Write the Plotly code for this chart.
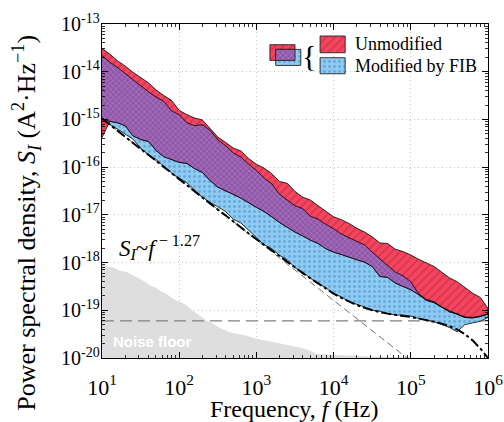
import numpy as np
import plotly.graph_objects as go

# ---------------- data (log10 values) ----------------
log_f = [1.0, 1.1, 1.2, 1.3, 1.4, 1.5, 1.6, 1.7, 1.8, 1.9,
         2.0, 2.1, 2.2, 2.3, 2.4, 2.5, 2.6, 2.7, 2.8, 2.9,
         3.0, 3.1, 3.2, 3.3, 3.4, 3.5, 3.6, 3.7, 3.8, 3.9,
         4.0, 4.1, 4.2, 4.3, 4.4, 4.5, 4.6, 4.7, 4.8, 4.9,
         5.0, 5.1, 5.2, 5.3, 5.4, 5.5, 5.6, 5.7, 5.8, 5.9, 6.0]

# Unmodified (red) band
red_top_log = [-13.51, -13.63, -13.77, -13.88, -14.01, -14.12, -14.23, -14.38, -14.50, -14.60,
               -14.81, -14.90, -14.97, -15.01, -15.20, -15.37, -15.48, -15.60, -15.66, -15.82,
               -15.94, -16.02, -16.14, -16.30, -16.34, -16.51, -16.63, -16.69, -16.81, -16.92,
               -17.04, -17.10, -17.18, -17.28, -17.36, -17.46, -17.59, -17.60, -17.72, -17.77,
               -17.84, -17.93, -18.00, -18.08, -18.20, -18.32, -18.40, -18.53, -18.64, -18.73, -18.96]
red_bottom_log = [-15.38, -15.04, -15.07, -15.13, -15.34, -15.42, -15.46, -15.65, -15.78, -15.84,
                  -15.90, -15.92, -16.03, -16.11, -16.28, -16.42, -16.49, -16.57, -16.65, -16.74,
                  -16.84, -16.93, -17.04, -17.16, -17.26, -17.36, -17.44, -17.53, -17.60, -17.71,
                  -17.78, -17.83, -17.88, -17.94, -17.99, -18.08, -18.29, -18.31, -18.43, -18.50,
                  -18.57, -18.67, -18.79, -18.84, -18.93, -19.03, -19.08, -19.15, -19.16, -19.13, -19.08]

# Modified by FIB (blue) band
blue_top_log = [-13.66, -13.80, -13.91, -14.04, -14.18, -14.29, -14.42, -14.53, -14.62, -14.82,
                -14.90, -15.07, -15.13, -15.11, -15.23, -15.43, -15.55, -15.70, -15.79, -15.94,
                -16.07, -16.23, -16.35, -16.57, -16.70, -16.81, -16.87, -17.03, -17.09, -17.20,
                -17.29, -17.40, -17.48, -17.55, -17.63, -17.78, -17.92, -18.08, -18.20, -18.28,
                -18.40, -18.65, -18.77, -18.82, -18.93, -19.01, -19.07, -19.14, -19.15, -19.12, -19.07]
blue_bottom_log = [-14.98, -15.10, -15.21, -15.31, -15.41, -15.60, -15.74, -15.84, -15.98, -16.12,
                   -16.23, -16.33, -16.47, -16.63, -16.74, -16.83, -16.93, -17.09, -17.17, -17.34,
                   -17.48, -17.63, -17.71, -17.85, -17.94, -18.11, -18.20, -18.33, -18.44, -18.53,
                   -18.65, -18.72, -18.82, -18.87, -18.93, -19.00, -19.02, -19.07, -19.10, -19.10,
                   -19.12, -19.17, -19.20, -19.24, -19.30, -19.36, -19.45, -19.30, -19.26, -19.23, -19.15]

# model curve (1/f + white + roll-off)
model_log = [-14.98, -15.11, -15.23, -15.36, -15.49, -15.62, -15.74, -15.87, -16.00, -16.12,
             -16.25, -16.38, -16.50, -16.63, -16.76, -16.89, -17.01, -17.14, -17.27, -17.39,
             -17.51, -17.63, -17.75, -17.87, -17.99, -18.11, -18.22, -18.33, -18.44, -18.55,
             -18.65, -18.74, -18.82, -18.89, -18.95, -19.00, -19.04, -19.07, -19.10, -19.12,
             -19.14, -19.17, -19.20, -19.24, -19.28, -19.33, -19.40, -19.50, -19.63, -19.80, -20.00]

# 1/f^1.27 fit line end points
fit_log_f = [1.0, 4.95]
fit_log_s = [-14.98, -20.0]

# white-noise level
white_level_log = -19.22

# instrument noise floor
noise_log_f = [1.0, 1.05, 1.142, 1.233, 1.32, 1.40, 1.49, 1.56, 1.62, 1.70, 1.75, 1.838, 1.90,
               1.968, 2.04, 2.097, 2.16, 2.227, 2.29, 2.356, 2.42, 2.486, 2.55, 2.615, 2.68,
               2.745, 2.81, 2.874, 2.94, 3.004, 3.07, 3.133, 3.22, 3.306, 3.44, 3.565, 3.68,
               3.78, 4.0, 4.21, 4.5, 4.86, 5.08, 5.3]
noise_log_s = [-18.00, -18.08, -18.10, -18.17, -18.20, -18.27, -18.34, -18.40, -18.48, -18.53,
               -18.59, -18.66, -18.73, -18.80, -18.84, -18.90, -18.99, -19.07, -19.13, -19.22,
               -19.26, -19.32, -19.39, -19.43, -19.47, -19.49, -19.51, -19.53, -19.57, -19.60,
               -19.62, -19.64, -19.67, -19.70, -19.74, -19.78, -19.84, -19.91, -19.93, -19.95,
               -19.97, -19.985, -19.99, -20.0]

x_range_log = [1, 6]
y_range_log = [-20, -13]
x_decades = [1, 2, 3, 4, 5, 6]
y_decades = [-20, -19, -18, -17, -16, -15, -14, -13]

series_names = ["Unmodified", "Modified by FIB"]

# ---------------- colours / fonts ----------------
RED = "#F2465F"
RED_FG = "#C41E40"
BLUE = "#8FCBF0"
BLUE_FG = "#3F86CC"
PURPLE = "#9058AA"
PURPLE_FG = "#C488C6"
SERIF = "Liberation Serif, Times New Roman, serif"

RED_PAT = dict(shape="/", bgcolor=RED, fgcolor=RED_FG, size=6, solidity=0.3)
BLUE_PAT = dict(shape=".", bgcolor=BLUE, fgcolor=BLUE_FG, size=5, solidity=0.25)
PURPLE_PAT = dict(shape="x", bgcolor=PURPLE, fgcolor=PURPLE_FG, size=4, solidity=0.4)

f = 10 ** np.array(log_f)
rt = 10 ** np.array(red_top_log)
rb = 10 ** np.array(red_bottom_log)
bt = 10 ** np.array(blue_top_log)
bb = 10 ** np.array(blue_bottom_log)
pt = np.minimum(rt, bt)
pb = np.minimum(np.maximum(rb, bb), pt)
floor_val = 10.0 ** y_range_log[0]


def band(x, top, bot):
    return (np.concatenate([x, x[::-1]]), np.concatenate([top, bot[::-1]]))


fig = go.Figure()

# noise floor
nf = 10 ** np.array(noise_log_f)
ns = 10 ** np.array(noise_log_s)
fig.add_trace(go.Scatter(
    x=np.concatenate([nf, [nf[-1], nf[0]]]),
    y=np.concatenate([ns, [floor_val, floor_val]]),
    fill="toself", fillcolor="#dedede", mode="lines", line=dict(width=0),
    hoverinfo="skip", showlegend=False))

# white-noise level
fig.add_trace(go.Scatter(
    x=[10 ** x_range_log[0], 10 ** x_range_log[1]], y=[10 ** white_level_log] * 2,
    mode="lines", line=dict(color="#808080", width=1.2, dash="12px,6px"),
    hoverinfo="skip", showlegend=False))

# fit line
fig.add_trace(go.Scatter(
    x=10 ** np.array(fit_log_f), y=10 ** np.array(fit_log_s),
    mode="lines", line=dict(color="#606060", width=0.9, dash="7px,4px"),
    hoverinfo="skip", showlegend=False))

# blue band
bx, by = band(f, bt, bb)
fig.add_trace(go.Scatter(
    x=bx, y=by, fill="toself", mode="lines", fillcolor=BLUE, fillpattern=BLUE_PAT,
    line=dict(color="black", width=0.8), name=series_names[1],
    hoverinfo="skip", showlegend=False))

# red band
rx, ry = band(f, rt, rb)
fig.add_trace(go.Scatter(
    x=rx, y=ry, fill="toself", mode="lines", fillcolor=RED, fillpattern=RED_PAT,
    line=dict(color="black", width=0.8), name=series_names[0],
    hoverinfo="skip", showlegend=False))

# overlap band
px_, py_ = band(f, pt, pb)
fig.add_trace(go.Scatter(
    x=px_, y=py_, fill="toself", mode="lines", fillcolor=PURPLE, fillpattern=PURPLE_PAT,
    line=dict(color="black", width=0.8),
    hoverinfo="skip", showlegend=False))

# model curve
fig.add_trace(go.Scatter(
    x=f, y=10 ** np.array(model_log), mode="lines",
    line=dict(color="black", width=2, dash="10px,3px,3px,3px"),
    hoverinfo="skip", showlegend=False))

# ---------------- custom legend (overlay axes, plot-fraction units) ----------------
def rect(x0, x1, y0, y1):
    return [x0, x1, x1, x0, x0], [y0, y0, y1, y1, y0]

legend_items = [
    (0.435, 0.500, 0.891, 0.938, RED, RED_PAT),
    (0.450, 0.515, 0.876, 0.924, BLUE, BLUE_PAT),
    (0.450, 0.500, 0.891, 0.924, PURPLE, PURPLE_PAT),
    (0.565, 0.630, 0.914, 0.964, RED, RED_PAT),
    (0.565, 0.630, 0.851, 0.899, BLUE, BLUE_PAT),
]
for x0, x1, y0, y1, col, pat in legend_items:
    lx, ly = rect(x0, x1, y0, y1)
    fig.add_trace(go.Scatter(
        x=lx, y=ly, xaxis="x2", yaxis="y2", fill="toself", mode="lines",
        fillcolor=col, fillpattern=pat, line=dict(color="#222222", width=0.9),
        hoverinfo="skip", showlegend=False))

# empty trace so the minor-tick overlay axes are drawn
fig.add_trace(go.Scatter(x=[], y=[], xaxis="x3", yaxis="y3", showlegend=False,
                         hoverinfo="skip"))

annotations = [
    dict(x=0.649, y=0.939, xref="paper", yref="paper", text=series_names[0],
         showarrow=False, xanchor="left", yanchor="middle",
         font=dict(family=SERIF, size=18, color="black")),
    dict(x=0.649, y=0.874, xref="paper", yref="paper", text=series_names[1],
         showarrow=False, xanchor="left", yanchor="middle",
         font=dict(family=SERIF, size=18, color="black")),
    dict(x=0.537, y=0.906, xref="paper", yref="paper", text="{",
         showarrow=False, xanchor="center", yanchor="middle",
         font=dict(family=SERIF, size=30, color="black")),
    dict(x=0.040, y=0.33, xref="paper", yref="paper",
         text="<i>S</i><sub><i>I</i></sub>~<i>f</i><sup> − 1.27</sup>",
         showarrow=False, xanchor="left", yanchor="middle",
         font=dict(family=SERIF, size=23, color="black")),
    dict(x=0.13, y=0.05, xref="paper", yref="paper", text="<b>Noise floor</b>",
         showarrow=False, xanchor="center", yanchor="middle",
         font=dict(family="Liberation Sans, Arial, sans-serif", size=15, color="white")),
    # axis titles
    dict(x=-0.197, y=0.405, xref="paper", yref="paper", textangle=-90,
         text="Power spectral density, <i>S</i><sub><i>I</i></sub> (A<sup>2</sup>·Hz<sup>−1</sup>)",
         showarrow=False, xanchor="center", yanchor="middle",
         font=dict(family=SERIF, size=26, color="black")),
    dict(x=0.497, y=-0.153, xref="paper", yref="paper",
         text="Frequency, <i>f</i> (Hz)",
         showarrow=False, xanchor="center", yanchor="middle",
         font=dict(family=SERIF, size=24, color="black")),
]

axis_common = dict(
    type="log", showline=True, linecolor="black", linewidth=1.3, mirror="allticks",
    ticks="inside", ticklen=6, tickwidth=1, tickcolor="black",
    tickmode="array", showgrid=True, gridcolor="#c4c4c4", griddash="1px,3px",
    gridwidth=1, zeroline=False, automargin=False,
)

minor_common = dict(
    type="log", tickmode="array", ticks="inside", ticklen=3, tickwidth=0.8,
    tickcolor="black", showticklabels=False, showgrid=False, showline=False,
    mirror="ticks", zeroline=False, automargin=False,
)

x_minor = [k * 10.0 ** d for d in x_decades[:-1] for k in range(2, 10)]
y_minor = [k * 10.0 ** d for d in y_decades[:-1] for k in range(2, 10)]

fig.update_layout(
    width=504, height=422,
    margin=dict(l=102, r=16, t=24, b=64),
    paper_bgcolor="white", plot_bgcolor="white",
    showlegend=False,
    xaxis=dict(range=x_range_log,
               tickvals=[10.0 ** d for d in x_decades],
               ticktext=[f"10<sup>{d}</sup>" for d in x_decades],
               tickfont=dict(family=SERIF, size=22, color="black"),
               ticklabelstandoff=9,
               **axis_common),
    yaxis=dict(range=y_range_log,
               tickvals=[10.0 ** d for d in y_decades],
               ticktext=[f"10<sup>{d}</sup>" for d in y_decades],
               tickfont=dict(family=SERIF, size=20, color="black"),
               ticklabelstandoff=-3,
               **axis_common),
    xaxis2=dict(overlaying="x", range=[0, 1], visible=False),
    yaxis2=dict(overlaying="y", range=[0, 1], visible=False),
    xaxis3=dict(overlaying="x", anchor="y3", range=x_range_log, tickvals=x_minor, **minor_common),
    yaxis3=dict(overlaying="y", anchor="x3", range=y_range_log, tickvals=y_minor, **minor_common),
    annotations=annotations,
)

fig.write_html("out.html",
               config={"displayModeBar": False, "staticPlot": True},
               post_script="document.body.style.margin='0px';document.body.style.padding='0px';")
